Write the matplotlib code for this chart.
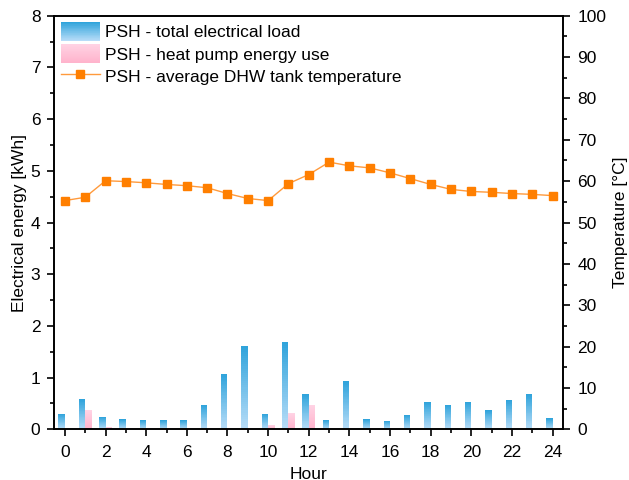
import numpy as np
import matplotlib.pyplot as plt
from matplotlib.colors import LinearSegmentedColormap
from matplotlib.patches import Rectangle
from matplotlib.lines import Line2D
from matplotlib.legend_handler import HandlerBase
from matplotlib.ticker import MultipleLocator

plt.rcParams['font.family'] = ['Liberation Sans', 'DejaVu Sans']

hours = np.arange(25)
total_load = [0.30, 0.58, 0.24, 0.19, 0.175, 0.175, 0.175, 0.47, 1.07, 1.62,
              0.30, 1.69, 0.68, 0.175, 0.93, 0.19, 0.16, 0.27, 0.53, 0.47,
              0.53, 0.37, 0.57, 0.68, 0.21]
heat_pump = [0, 0.37, 0.05, 0, 0, 0, 0, 0, 0, 0,
             0.08, 0.31, 0.47, 0, 0, 0, 0, 0, 0, 0,
             0, 0, 0, 0, 0]
tank_temp = [55.3, 56.1, 60.1, 59.9, 59.6, 59.2, 58.9, 58.4, 57.0, 55.8,
             55.3, 59.4, 61.6, 64.6, 63.7, 63.2, 62.0, 60.6, 59.2, 58.0,
             57.5, 57.3, 57.0, 56.8, 56.5]

labels = ['PSH - total electrical load',
          'PSH - heat pump energy use',
          'PSH - average DHW tank temperature']

blue_top, blue_bottom = '#2ea3db', '#b9ddf8'
pink_top, pink_bottom = '#ffd3e4', '#ffb2cb'
orange = '#ff7f00'


def gradient_strips(x0, y0, w, h, top, bottom, n=40, **kw):
    # vertical gradient made of thin stacked rectangles
    cmap = LinearSegmentedColormap.from_list('g', [bottom, top])
    out = []
    for i in range(n):
        out.append(Rectangle((x0, y0 + h * i / n), w, h / n * 1.02,
                             facecolor=cmap((i + 0.5) / n), edgecolor='none', **kw))
    return out


class GradientHandle:
    def __init__(self, top, bottom):
        self.top = top
        self.bottom = bottom


class HandlerGradient(HandlerBase):
    def create_artists(self, legend, orig_handle, xdescent, ydescent,
                       width, height, fontsize, trans):
        return gradient_strips(-xdescent, -ydescent, width, height,
                               orig_handle.top, orig_handle.bottom, n=30, transform=trans)


def gradient_bars(ax, x, heights, width, top, bottom):
    for xi, h in zip(x, heights):
        if h <= 0:
            continue
        for r in gradient_strips(xi, 0, width, h, top, bottom, zorder=2):
            ax.add_patch(r)


fig = plt.figure(figsize=(6.29, 4.8), dpi=100)
ax = fig.add_axes([0.0863, 0.1056, 0.8093, 0.8617])
ax2 = ax.twinx()

bw = 0.32
gradient_bars(ax, hours - bw, total_load, bw, blue_top, blue_bottom)
gradient_bars(ax, hours, heat_pump, bw, pink_top, pink_bottom)

ax2.plot(hours, tank_temp, color='#ff9a3c', lw=1.0, marker='s', ms=5.5,
         mfc=orange, mec=orange, zorder=3)

ax.set_xlim(-0.52, 24.52)
ax.set_ylim(0, 8)
ax2.set_ylim(0, 100)

ax.xaxis.set_major_locator(MultipleLocator(2))
ax.xaxis.set_minor_locator(MultipleLocator(1))
ax.yaxis.set_major_locator(MultipleLocator(1))
ax.yaxis.set_minor_locator(MultipleLocator(0.5))
ax2.yaxis.set_major_locator(MultipleLocator(10))
ax2.yaxis.set_minor_locator(MultipleLocator(5))

for a in (ax, ax2):
    a.tick_params(which='major', direction='out', length=5, width=1.2,
                  labelsize=12.5, pad=5)
    a.tick_params(which='minor', direction='out', length=3, width=1.2)
    for s in a.spines.values():
        s.set_linewidth(1.2)
ax.tick_params(axis='x', which='major', pad=6.5)

ax.set_xlabel('Hour', fontsize=12.5, labelpad=4.5)
ax.set_ylabel('Electrical energy [kWh]', fontsize=12.5, labelpad=2.5)
ax2.set_ylabel('Temperature [°C]', fontsize=12.5, labelpad=5)

handles = [GradientHandle(blue_top, blue_bottom),
           GradientHandle(pink_top, pink_bottom),
           Line2D([], [], color='#ff9a3c', lw=1.0, marker='s', ms=5.5, mfc=orange, mec=orange)]
ax2.legend(handles, labels, handler_map={GradientHandle: HandlerGradient()},
           loc='upper left', bbox_to_anchor=(0.013, 0.985), frameon=False,
           fontsize=12.5, handlelength=2.25, handleheight=1.3, labelspacing=0.2,
           handletextpad=0.3, borderpad=0, borderaxespad=0)

fig.savefig('out.png', dpi=100)
